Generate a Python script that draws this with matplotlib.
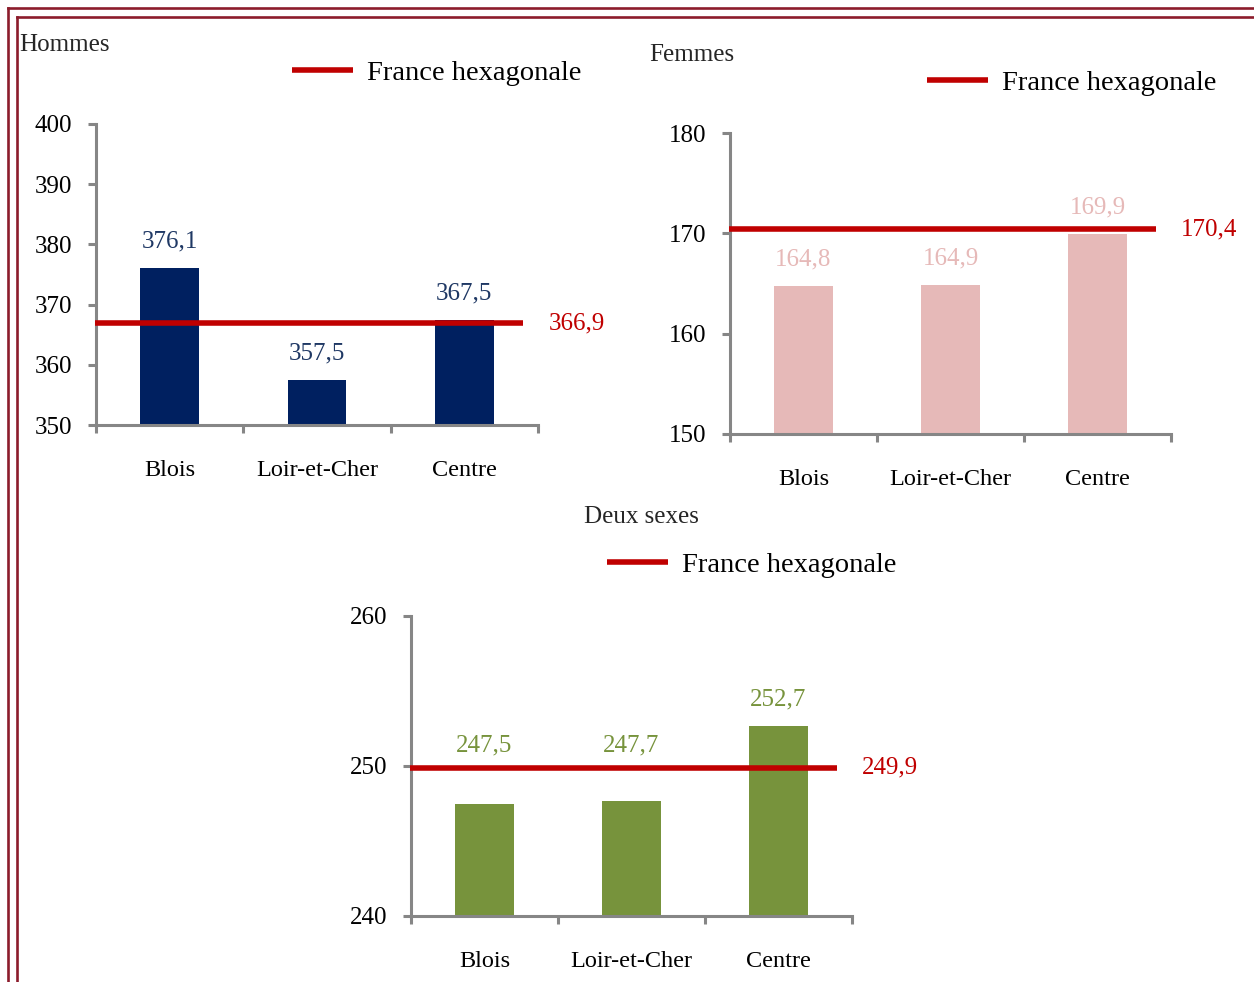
import matplotlib.pyplot as plt
from matplotlib.lines import Line2D

plt.rcParams['font.family'] = ['Liberation Serif', 'DejaVu Serif']

# Données
categories = ['Blois', 'Loir-et-Cher', 'Centre']
hommes = [376.1, 357.5, 367.5]
femmes = [164.8, 164.9, 169.9]
deux_sexes = [247.5, 247.7, 252.7]
france_hommes = 366.9
france_femmes = 170.4
france_deux = 249.9
legend_label = 'France hexagonale'

RED = '#C00000'
AXIS_GREY = '#868686'
W, H = 1254, 982


def fig_rect(left, top, right, bottom):
    # conversion pixels -> fraction de figure
    return [left / W, 1 - bottom / H, (right - left) / W, (bottom - top) / H]


def fr(x, y):
    return x / W, 1 - y / H


def draw_panel(fig, rect, values, ref, ylim, yticks, bar_color, label_color,
               title, title_xy, legend_xy):
    ax = fig.add_axes(rect)
    x = list(range(len(categories)))
    ax.bar(x, values, width=0.4, color=bar_color, zorder=2)
    ax.set_xlim(-0.5, 2.5)
    ax.set_ylim(*ylim)

    # ligne de référence France hexagonale
    ax.plot([-0.505, 2.4], [ref, ref], color=RED, lw=4, solid_capstyle='butt',
            clip_on=False, zorder=3, label=legend_label)
    ax.annotate(f'{ref:.1f}'.replace('.', ','), xy=(2.4, ref),
                xytext=(18, 0), textcoords='offset points',
                ha='left', va='center', color=RED, fontsize=18)

    # étiquettes de valeur
    span = ylim[1] - ylim[0]
    h_px = rect[3] * H
    for xi, v in zip(x, values):
        base = v
        gap_px = (ref - v) / span * h_px
        if 0 < gap_px < 45:
            base = ref  # étiquette remontée au-dessus de la ligne
        off = 19 if base == v else 16
        ax.annotate(f'{v:.1f}'.replace('.', ','), xy=(xi, base),
                    xytext=(0, off), textcoords='offset points',
                    ha='center', va='center', color=label_color, fontsize=18)

    # axes
    for s in ('top', 'right'):
        ax.spines[s].set_visible(False)
    for s in ('left', 'bottom'):
        ax.spines[s].set_color(AXIS_GREY)
        ax.spines[s].set_linewidth(2.2)
    ax.set_yticks(yticks)
    ax.set_yticklabels([str(t) for t in yticks])
    ax.tick_params(axis='y', length=6, width=2.2, color=AXIS_GREY, pad=11,
                   labelsize=18)
    ax.set_xticks([-0.5, 0.5, 1.5, 2.5])
    ax.set_xticklabels([])
    ax.tick_params(axis='x', which='major', length=6, width=2.2,
                   color=AXIS_GREY)
    ax.set_xticks(x, minor=True)
    ax.set_xticklabels(categories, minor=True)
    ax.tick_params(axis='x', which='minor', length=0, pad=25, labelsize=17.5)

    fig.text(*fr(*title_xy), title, ha='left', va='center', fontsize=18,
             color='#262626')
    ax.legend(loc='center left', bbox_to_anchor=fr(*legend_xy),
              bbox_transform=fig.transFigure, frameon=False, fontsize=20.5,
              handlelength=2.15, handletextpad=0.5, borderpad=0,
              borderaxespad=0)
    return ax


fig = plt.figure(figsize=(W / 100, H / 100), dpi=100)

draw_panel(fig, fig_rect(96, 124, 538, 425), hommes, france_hommes,
           (350, 400), [350, 360, 370, 380, 390, 400], '#002060', '#1F3864',
           'Hommes', (19, 45), (292, 73))
draw_panel(fig, fig_rect(730, 133, 1171, 434), femmes, france_femmes,
           (150, 180), [150, 160, 170, 180], '#E6B9B8', '#E6B9B8',
           'Femmes', (649, 55), (927, 83))
draw_panel(fig, fig_rect(411, 616, 852, 916), deux_sexes, france_deux,
           (240, 260), [240, 250, 260], '#77933C', '#77933C',
           'Deux sexes', (584, 517), (607, 565))

# double cadre
for p in (8, 17):
    fig.add_artist(Line2D([p / W, 1.01], [1 - p / H, 1 - p / H],
                          transform=fig.transFigure, color='#8C1C2C', lw=1.9))
    fig.add_artist(Line2D([p / W, p / W], [1 - p / H, -0.01],
                          transform=fig.transFigure, color='#8C1C2C', lw=1.9))

fig.savefig('out.png', dpi=100, facecolor='white')
